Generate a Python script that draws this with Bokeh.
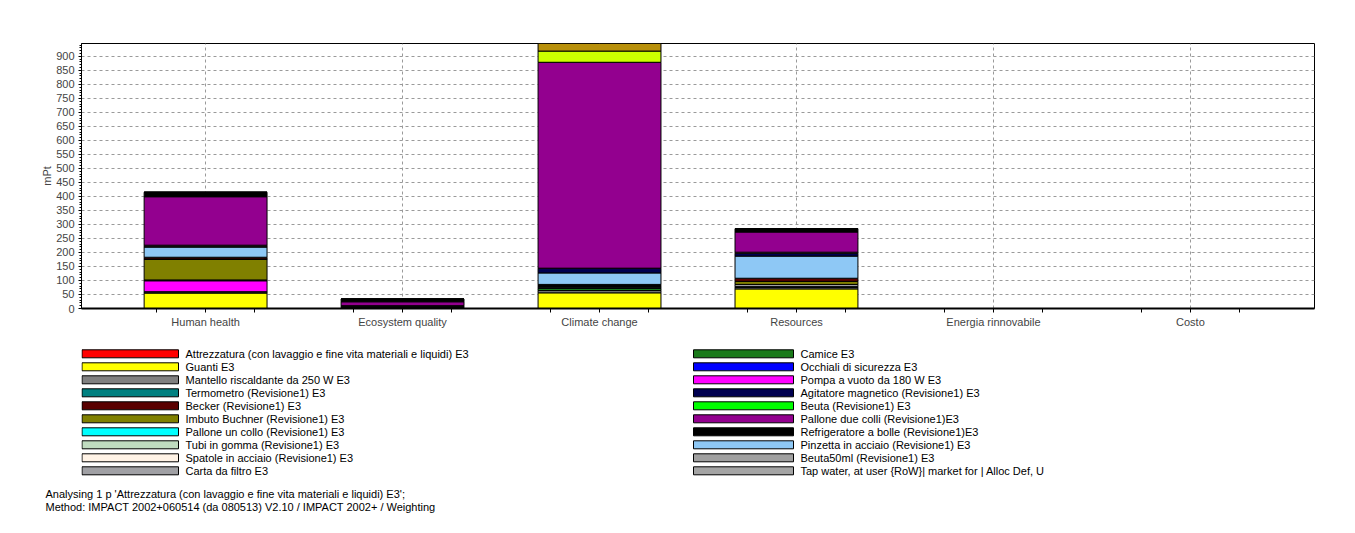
from bokeh.plotting import figure
from bokeh.models import ColumnDataSource, FixedTicker, Range1d, Title
from bokeh.layouts import column
from bokeh.core.properties import value
from bokeh.embed import file_html
from bokeh.resources import INLINE

categories = ["Human health", "Ecosystem quality", "Climate change", "Resources",
              "Energia rinnovabile", "Costo"]

# stacking order, bottom to top
series_names = [
    "Attrezzatura (con lavaggio e fine vita materiali e liquidi) E3",
    "Guanti E3",
    "Mantello riscaldante da 250 W E3",
    "Camice E3",
    "Termometro (Revisione1) E3",
    "Carta da filtro E3",
    "Pompa a vuoto da 180 W E3",
    "Beuta50ml (Revisione1) E3",
    "Tap water, at user {RoW}| market for | Alloc Def, U",
    "Imbuto Buchner (Revisione1) E3",
    "Occhiali di sicurezza E3",
    "Beuta (Revisione1) E3",
    "Pallone un collo (Revisione1) E3",
    "Becker (Revisione1) E3",
    "Pinzetta in acciaio (Revisione1) E3",
    "Agitatore magnetico (Revisione1) E3",
    "Tubi in gomma (Revisione1) E3",
    "Spatole in acciaio (Revisione1) E3",
    "Pallone due colli (Revisione1)E3",
    "Refrigeratore a bolle (Revisione1)E3",
    "Altri processi 1",
    "Altri processi 2",
]
series_colors = [
    "#FF0000", "#FFFF00", "#808080", "#1A7A1A", "#008080", "#A0A0A4",
    "#FF00FF", "#A0A0A0", "#A4A4A4", "#808000", "#0000FF", "#00FF00",
    "#00FFFF", "#5A0000", "#8EC8F5", "#000050", "#C0DCC0", "#FFF3E6",
    "#93008F", "#000000", "#CCFF00", "#B8900A",
]

# values (mPt) per category, in stacking order
hh_values = [0, 55, 5, 0, 0, 0, 39, 3, 0, 75, 0, 0, 0, 6, 37, 0, 3, 3, 173, 16, 0, 0]
eq_values = [0, 2, 0, 0, 0, 0, 2, 0, 0, 0, 0, 0, 0, 0, 0, 4, 2, 0, 14, 10, 0, 0]
cc_values = [0, 56, 8, 8, 2, 3, 2, 2, 1, 4, 0, 0, 0, 0, 41, 17, 0, 0, 735, 0, 40, 30]
res_values = [0, 70, 6, 0, 2, 8, 0, 0, 0, 11, 0, 0, 0, 11, 79, 10, 0, 4, 72, 12, 0, 0]
er_values = [0] * 22
costo_values = [0] * 22

y_ticks = list(range(0, 901, 50))

legend_left = [
    "Attrezzatura (con lavaggio e fine vita materiali e liquidi) E3",
    "Guanti E3",
    "Mantello riscaldante da 250 W E3",
    "Termometro (Revisione1) E3",
    "Becker (Revisione1) E3",
    "Imbuto Buchner (Revisione1) E3",
    "Pallone un collo (Revisione1) E3",
    "Tubi in gomma (Revisione1) E3",
    "Spatole in acciaio (Revisione1) E3",
    "Carta da filtro E3",
]
legend_right = [
    "Camice E3",
    "Occhiali di sicurezza E3",
    "Pompa a vuoto da 180 W E3",
    "Agitatore magnetico (Revisione1) E3",
    "Beuta (Revisione1) E3",
    "Pallone due colli (Revisione1)E3",
    "Refrigeratore a bolle (Revisione1)E3",
    "Pinzetta in acciaio (Revisione1) E3",
    "Beuta50ml (Revisione1) E3",
    "Tap water, at user {RoW}| market for | Alloc Def, U",
]
footer_lines = [
    "Analysing 1 p 'Attrezzatura (con lavaggio e fine vita materiali e liquidi) E3';",
    "Method: IMPACT 2002+060514 (da 080513) V2.10 / IMPACT 2002+ / Weighting",
]

FONT = "Liberation Sans"

# ---------------- chart ----------------
p = figure(width=1355, height=345, x_range=Range1d(-0.63, 5.63), y_range=Range1d(0, 946),
           output_backend="svg", toolbar_location=None,
           min_border_left=81, min_border_right=41, min_border_top=43, min_border_bottom=37,
           background_fill_color="white", border_fill_color="white")
p.outline_line_color = "black"
p.outline_line_width = 1

data = {"x": list(range(len(categories)))}
keys = []
per_cat = [hh_values, eq_values, cc_values, res_values, er_values, costo_values]
for i, name in enumerate(series_names):
    k = "s%d" % i
    keys.append(k)
    data[k] = [vals[i] for vals in per_cat]
src = ColumnDataSource(data)
p.vbar_stack(keys, x="x", width=0.624, color=series_colors, source=src,
             line_color="black", line_width=1)

# axes
p.yaxis.ticker = FixedTicker(ticks=y_ticks, minor_ticks=list(range(0, 941, 10)))
p.yaxis.axis_label = "mPt"
p.yaxis.axis_label_text_font = FONT
p.yaxis.axis_label_text_font_size = "11px"
p.yaxis.axis_label_text_font_style = "normal"
p.yaxis.axis_label_standoff = 0
p.yaxis.major_label_text_font = FONT
p.yaxis.major_label_text_font_size = "11px"
p.yaxis.major_label_standoff = 4
p.yaxis.major_tick_out = 3
p.yaxis.major_tick_in = 0
p.yaxis.minor_tick_out = 2
p.yaxis.minor_tick_in = 0
p.yaxis.axis_line_color = "black"

xt = []
for c in range(len(categories)):
    xt += [c - 0.25, c, c + 0.25]
p.xaxis.ticker = FixedTicker(ticks=xt)
overrides = {}
for t in xt:
    if abs(t - round(t)) < 1e-9:
        overrides[int(round(t))] = categories[int(round(t))]
    else:
        overrides[t] = ""
p.xaxis.major_label_overrides = overrides
p.xaxis.major_label_text_font = FONT
p.xaxis.major_label_text_font_size = "11px"
p.xaxis.major_label_standoff = 3
p.xaxis.major_tick_out = 4
p.xaxis.major_tick_in = 0
p.xaxis.minor_tick_line_color = None
p.xaxis.axis_line_width = 2
p.xaxis.axis_line_color = "black"

p.ygrid.ticker = FixedTicker(ticks=y_ticks)
p.xgrid.ticker = FixedTicker(ticks=list(range(len(categories))))
for g in (p.xgrid, p.ygrid):
    g.grid_line_color = "#9A9A9A"
    g.grid_line_dash = "3 3"
    g.grid_line_width = 1

# ---------------- legend + footer ----------------
# frame of this figure is aligned with the chart frame (page x 81..1314), so use page pixels
FRAME_H = 140
q = figure(width=1355, height=188, x_range=Range1d(81, 1314), y_range=Range1d(FRAME_H, 0),
           output_backend="svg", toolbar_location=None,
           min_border_left=81, min_border_right=41, min_border_top=0,
           min_border_bottom=188 - FRAME_H,
           background_fill_color="white", border_fill_color="white")
q.axis.visible = False
q.grid.visible = False
q.outline_line_color = None

color_of = dict(zip(series_names, series_colors))
lx0, lx1, ly0 = [], [], []
names, cols, tx, ty = [], [], [], []
for colnames, sx in ((legend_left, 81.5), (legend_right, 693)):
    for r, nm in enumerate(colnames):
        yc = 8.3 + 13 * r
        lx0.append(sx)
        lx1.append(178 if sx < 100 else sx + 100)
        ly0.append(yc)
        cols.append(color_of[nm])
        names.append(nm)
        tx.append(185 if sx < 100 else sx + 107)
        ty.append(yc)
lsrc = ColumnDataSource(dict(left=lx0, right=lx1, top=[y - 4 for y in ly0],
                             bottom=[y + 4 for y in ly0], color=cols,
                             tx=tx, ty=ty, name=names))
q.quad(left="left", right="right", top="top", bottom="bottom", fill_color="color",
       line_color="black", line_width=1, source=lsrc)
q.text(x="tx", y="ty", text="name", source=lsrc, text_font=value(FONT),
       text_font_size="11px", text_baseline="middle", text_color="black")

for i, line in enumerate(footer_lines):
    q.add_layout(Title(text=line, align="left", offset=45 - 81, standoff=-2 * i,
                       text_font=FONT, text_font_size="11px", text_font_style="normal",
                       text_color="black"), "below")

layout = column(p, q, spacing=0)
open("out.html", "w").write(file_html(layout, INLINE))
